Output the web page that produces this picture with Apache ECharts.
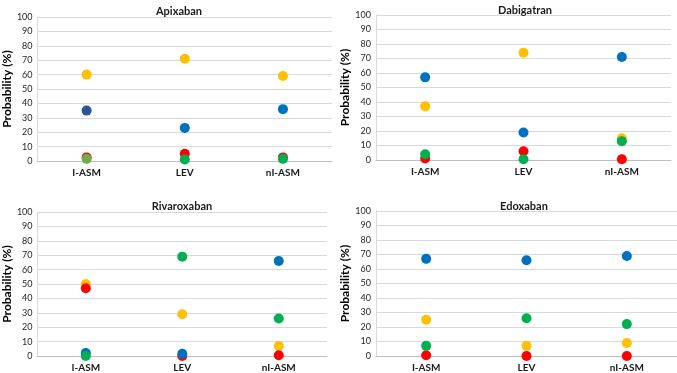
<!DOCTYPE html>
<html>
<head>
<meta charset="utf-8">
<script src="https://cdn.jsdelivr.net/npm/echarts@6/dist/echarts.min.js"></script>
<style>
  html, body { margin: 0; padding: 0; background: #fff; }
  #chart { width: 677px; height: 373px; }
</style>
</head>
<body>
<div id="chart"></div>
<script>
// categories and tick labels
let categories = ["I-ASM", "LEV", "nI-ASM"];
let drugs = ["Apixaban", "Dabigatran", "Rivaroxaban", "Edoxaban"];

// probability (%) per drug, one array per colour
let apixabanYellow = [60, 71, 59];
let apixabanRed = [2.5, 5, 2.5];
let apixabanBlue = [35, 23, 36];
let apixabanGreen = [1.5, 1, 1.5];

let dabigatranYellow = [37, 74, 15];
let dabigatranRed = [1, 6, 0.5];
let dabigatranBlue = [57, 19, 71];
let dabigatranGreen = [4, 0.5, 13];

let rivaroxabanYellow = [50, 29, 7];
let rivaroxabanRed = [47, 0, 0.5];
let rivaroxabanBlue = [2, 1.5, 66];
let rivaroxabanGreen = [0, 69, 26];

let edoxabanYellow = [25, 7, 9];
let edoxabanRed = [0.5, 0, 0];
let edoxabanBlue = [67, 66, 69];
let edoxabanGreen = [7, 26, 22];

let values = [
    [apixabanYellow, apixabanRed, apixabanBlue, apixabanGreen],
    [dabigatranYellow, dabigatranRed, dabigatranBlue, dabigatranGreen],
    [rivaroxabanYellow, rivaroxabanRed, rivaroxabanBlue, rivaroxabanGreen],
    [edoxabanYellow, edoxabanRed, edoxabanBlue, edoxabanGreen]
];
let colours = ["#FFC000", "#FF0000", "#0070C0", "#00B050"];

// panel boxes in pixels
let boxes = [
    { left: 31, top: 17, width: 301, height: 144, titleX: 174, titleY: 1 },
    { left: 376, top: 15, width: 295, height: 145, titleX: 520, titleY: 0 },
    { left: 31, top: 212, width: 296, height: 146, titleX: 177, titleY: 196 },
    { left: 376, top: 211, width: 301, height: 148, titleX: 519, titleY: 196 }
];

let font = "Lato, 'Liberation Sans', sans-serif";
let option = {
    backgroundColor: "#fff",
    animation: false,
    title: [], grid: [], xAxis: [], yAxis: [], series: []
};

drugs.forEach((drug, i) => {
    let b = boxes[i];
    option.title.push({
        text: drug, left: b.titleX, top: b.titleY, textAlign: "center",
        textStyle: { fontFamily: font, fontSize: 11, fontWeight: "bold", color: "#1a1a1a" }
    });
    option.grid.push({ left: b.left, top: b.top, width: b.width, height: b.height, containLabel: false });
    option.xAxis.push({
        type: "category", gridIndex: i, data: categories, boundaryGap: true,
        axisLine: { show: true, lineStyle: { color: "#bfbfbf", width: 1 } },
        axisTick: { show: false },
        axisLabel: { fontFamily: font, fontSize: 10, fontWeight: "bold", color: "#1a1a1a", margin: 7 }
    });
    option.yAxis.push({
        type: "value", gridIndex: i, min: 0, max: 100, interval: 10,
        name: "Probability (%)", nameLocation: "middle", nameGap: 21,
        nameTextStyle: { fontFamily: font, fontSize: 12, fontWeight: "bold", color: "#000" },
        axisLine: { show: true, lineStyle: { color: "#d9d9d9", width: 1 } },
        axisTick: { show: false },
        splitLine: { show: true, lineStyle: { color: "#d9d9d9", width: 1 } },
        axisLabel: { fontFamily: font, fontSize: 9, color: "#262626", margin: 5 }
    });
    values[i].forEach((arr, k) => {
        let data = arr.map((v, j) => {
            let item = { value: [categories[j], v] };
            // in the Apixaban I-ASM column the markers are drawn in other shades
            if (i === 0 && j === 0 && k === 2) item.itemStyle = { color: "#2F5597" };
            if (i === 0 && j === 0 && k === 3) item.itemStyle = { color: "#70AD47" };
            return item;
        });
        option.series.push({
            type: "scatter", xAxisIndex: i, yAxisIndex: i,
            symbol: "circle", symbolSize: 10,
            itemStyle: { color: colours[k], opacity: 1 },
            data: data
        });
    });
});

let myChart = echarts.init(document.getElementById("chart"));
myChart.setOption(option);
</script>
</body>
</html>
